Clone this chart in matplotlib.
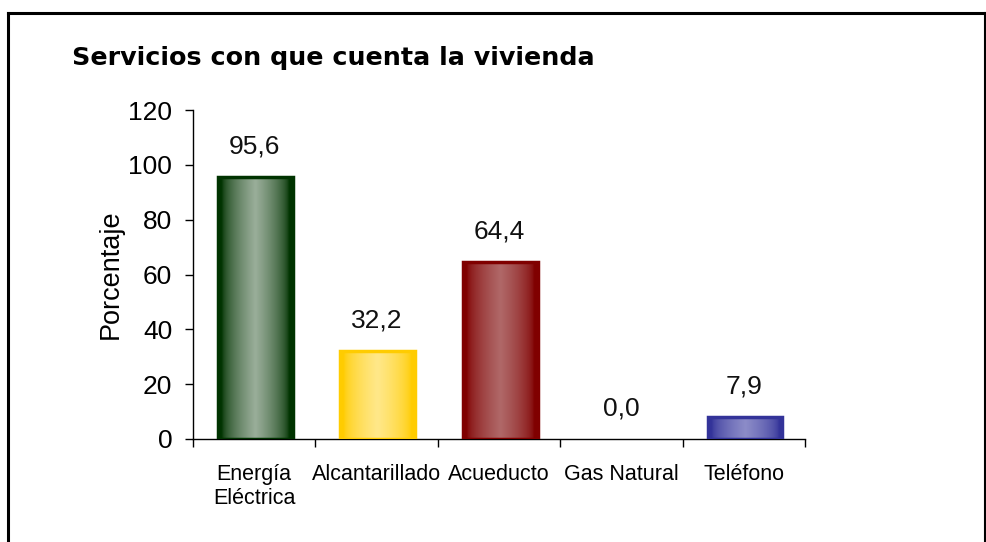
import numpy as np
import matplotlib
matplotlib.use("Agg")
import matplotlib.pyplot as plt
from matplotlib.colors import LinearSegmentedColormap
from matplotlib.patches import Rectangle
from matplotlib.lines import Line2D

# Data
categorias = ["Energía\nEléctrica", "Alcantarillado", "Acueducto", "Gas Natural", "Teléfono"]
valores = [95.6, 32.2, 64.4, 0.0, 7.9]
etiquetas = ["95,6", "32,2", "64,4", "0,0", "7,9"]
# (edge colour, light centre colour)
colores = [("#003300", "#9aae9a"),
           ("#ffcc00", "#ffe88a"),
           ("#800000", "#b06868"),
           ("#333399", "#8c8cc8"),
           ("#333399", "#8c8cc8")]

plt.rcParams['font.family'] = ['Liberation Sans', 'DejaVu Sans']

fig = plt.figure(figsize=(9.86, 5.42), dpi=100)

# Frame round the figure
fig.add_artist(Line2D([8/986, 8/986], [0, 1-13/542], transform=fig.transFigure,
                      color='black', linewidth=2.2))
fig.add_artist(Line2D([8/986, 1], [1-13/542, 1-13/542], transform=fig.transFigure,
                      color='black', linewidth=2.2))
fig.add_artist(Line2D([985/986, 985/986], [1-13/542, 0], transform=fig.transFigure,
                      color='black', linewidth=1.5))

fig.text(72/986, 1-65/542, "Servicios con que cuenta la vivienda",
         family='DejaVu Sans', fontweight='bold', fontsize=18.3,
         ha='left', va='baseline')

ax = fig.add_axes([193/986, 1-439/542, 612/986, 329/542])

ancho = 0.61
# horizontal profile: dark at the edges, light in the middle
xs = np.linspace(0, 1, 64)
perfil = np.clip(1 - np.abs(xs - 0.5) * 2.2, 0, 1) ** 0.6
for i, (v, (c_borde, c_luz)) in enumerate(zip(valores, colores)):
    if v <= 0:
        continue
    x0 = i - ancho/2 + 0.01
    cmap = LinearSegmentedColormap.from_list("b%d" % i, [c_borde, c_luz])
    ax.imshow(perfil[np.newaxis, :], cmap=cmap, vmin=0, vmax=1,
              extent=(x0, x0 + ancho, 0, v), aspect='auto',
              interpolation='bilinear', zorder=2)
    ax.add_patch(Rectangle((x0, 0), ancho, v, fill=False,
                           edgecolor=c_borde, linewidth=2.5, zorder=3))

for i, (v, t) in enumerate(zip(valores, etiquetas)):
    ax.annotate(t, (i, v), xytext=(0, 17), textcoords='offset points',
                ha='center', va='baseline', fontsize=19, color='#111111')

ax.set_xlim(-0.5, len(categorias) - 0.5)
ax.set_ylim(0, 120)
ax.set_yticks(range(0, 121, 20))
ax.set_xticks(np.arange(-0.5, len(categorias), 1.0))
ax.set_xticklabels([])
ax.set_xticks(range(len(categorias)), minor=True)
ax.set_xticklabels(categorias, minor=True, fontsize=15.5, linespacing=1.2)
ax.tick_params(axis='x', which='minor', length=0, pad=18)
ax.tick_params(axis='x', which='major', length=6, direction='out', width=1)
ax.tick_params(axis='y', length=6, width=1, labelsize=19, pad=9)
ax.set_ylabel("Porcentaje", fontsize=19.5, labelpad=3)

for s in ['top', 'right']:
    ax.spines[s].set_visible(False)
for s in ['left', 'bottom']:
    ax.spines[s].set_linewidth(1.0)

fig.savefig("out.png", dpi=100)
